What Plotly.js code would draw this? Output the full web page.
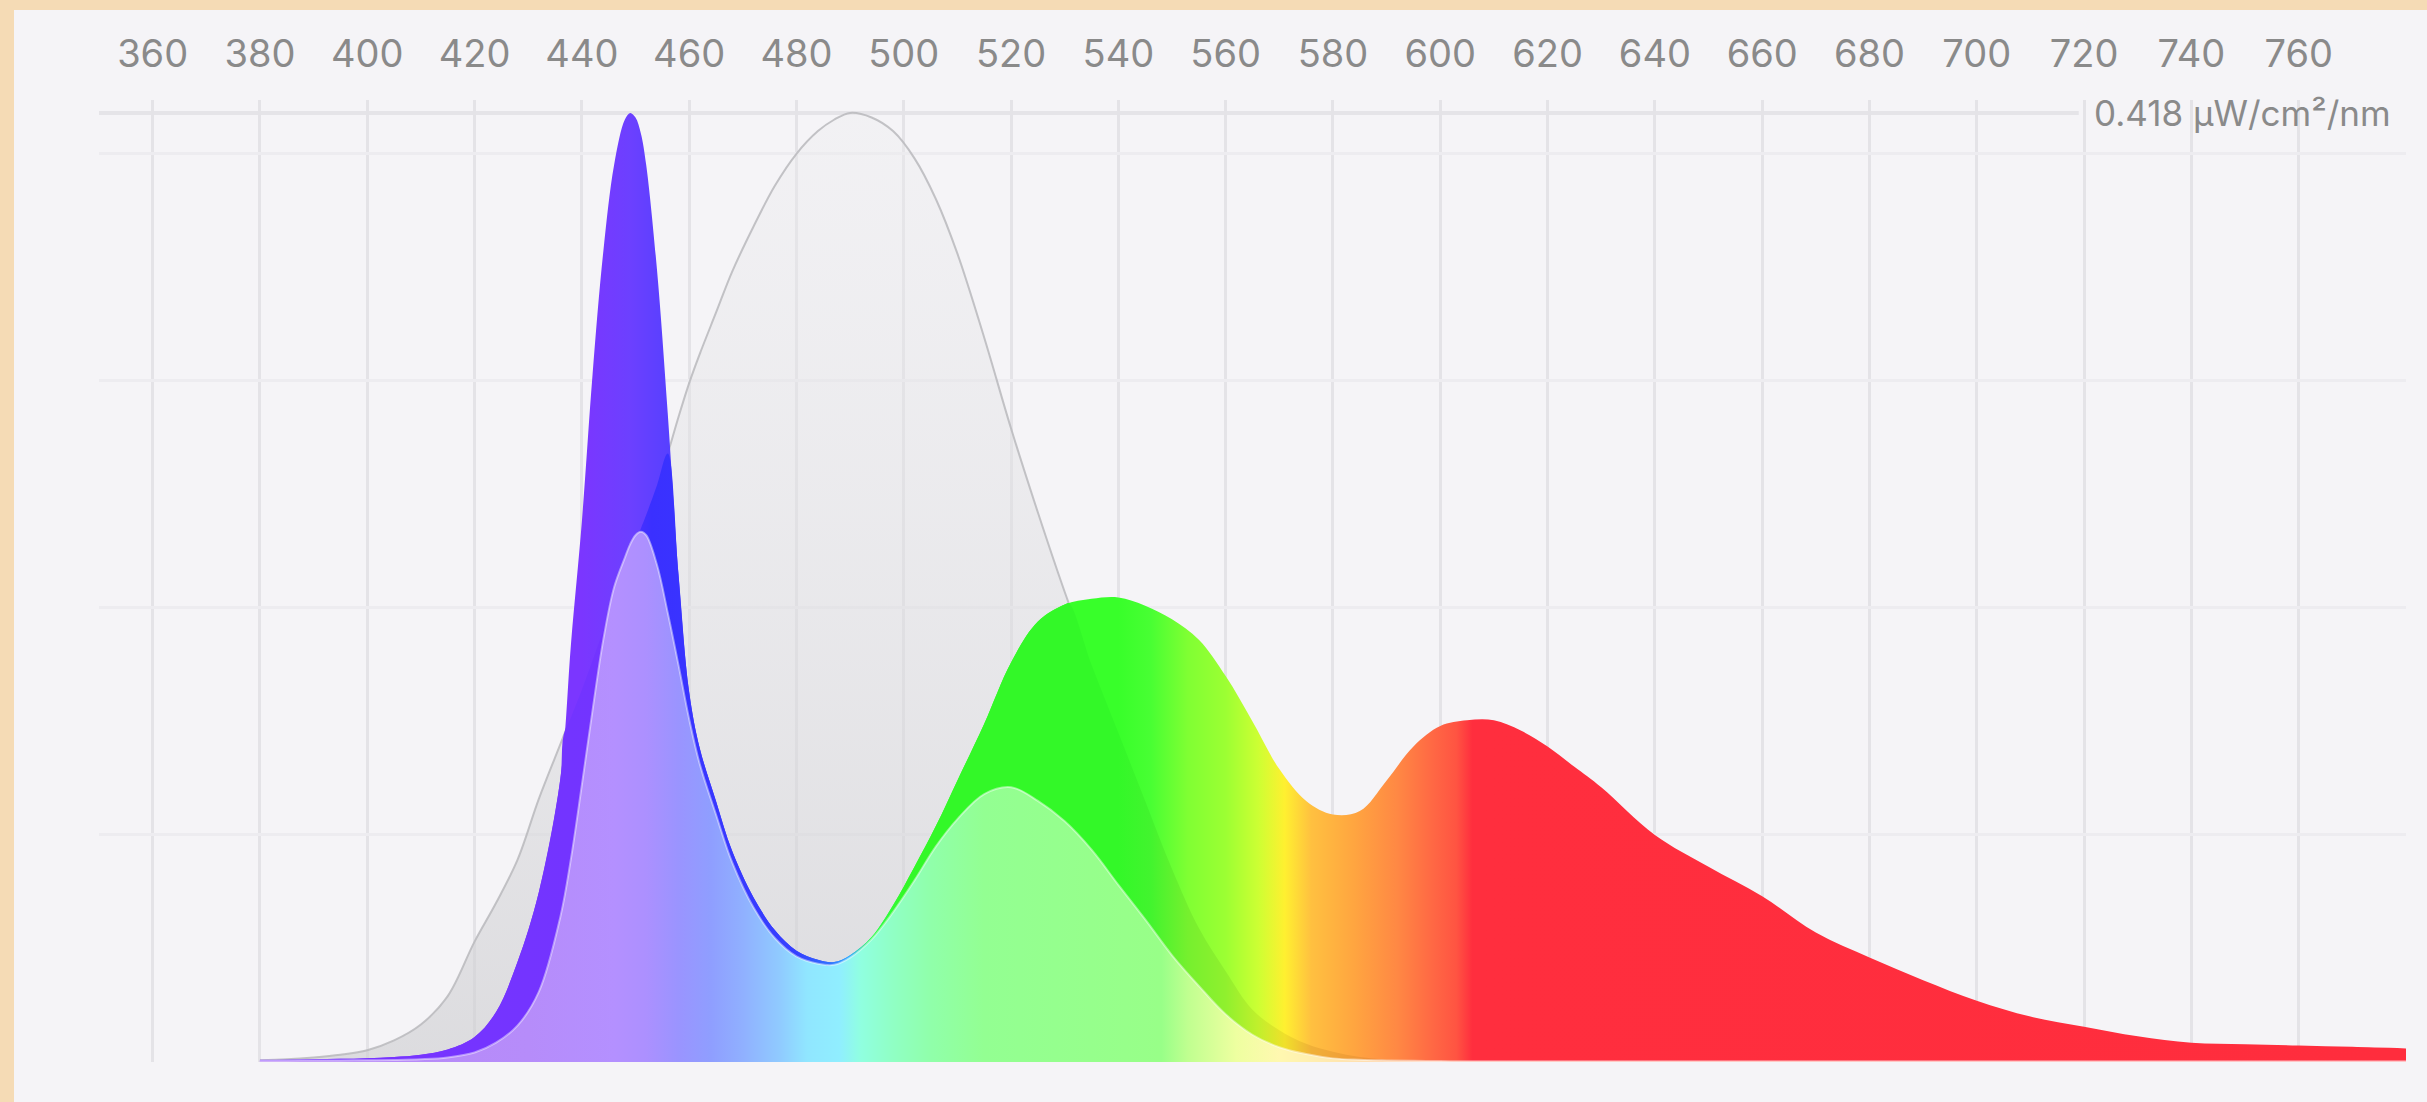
<!DOCTYPE html>
<html><head><meta charset="utf-8">
<script src="https://cdn.plot.ly/plotly-3.0.1.min.js"></script>
<style>
html,body{margin:0;padding:0;background:#f5dbb5;width:2427px;height:1102px;overflow:hidden}
#chart{position:absolute;left:14px;top:10px;width:2413px;height:1092px;background:#f5f4f7}
</style></head><body><div id="chart"></div>
<script>
// wavelength grid (nm)
const wavelengths = [380,385,390,395,400,405,410,415,420,424,428,432,436,438,440,442,444,446,448,449,450,451,452,454,456,458,460,462,465,468,472,476,480,484,487,490,494,498,502,506,510,515,520,525,530,535,540,545,550,555,560,565,570,575,580,585,590,595,600,605,610,615,620,625,630,640,650,660,670,680,690,700,710,720,730,740,750,760,770,780];
// measured spectral irradiance (µW/cm²/nm)
const spectrum = [0.001,0.001,0.0012,0.0014,0.0017,0.0022,0.0032,0.0055,0.011,0.022,0.044,0.075,0.125,0.185,0.238,0.303,0.357,0.395,0.415,0.418,0.416,0.409,0.395,0.349,0.286,0.215,0.163,0.138,0.115,0.093,0.0725,0.058,0.049,0.045,0.044,0.047,0.055,0.069,0.086,0.104,0.124,0.149,0.176,0.194,0.2015,0.204,0.2046,0.201,0.195,0.186,0.170,0.150,0.129,0.115,0.109,0.1105,0.124,0.139,0.148,0.1505,0.1505,0.146,0.139,0.130,0.121,0.100,0.086,0.073,0.057,0.046,0.036,0.027,0.020,0.0155,0.0113,0.0085,0.0078,0.0073,0.0067,0.006];
// sensitivity curve (grey), scaled to the peak value
const sensitivity = [0.0008,0.0012,0.002,0.0032,0.0052,0.0095,0.0165,0.029,0.053,0.07,0.089,0.116,0.14,0.152,0.164,0.177,0.19,0.203,0.216,0.222,0.229,0.235,0.241,0.254,0.268,0.284,0.299,0.312,0.330,0.348,0.368,0.386,0.400,0.410,0.415,0.418,0.416,0.410,0.398,0.380,0.356,0.319,0.279,0.242,0.207,0.175,0.145,0.115,0.085,0.059,0.04,0.023,0.014,0.008,0.0045,0.0022,0.001,0.0005,0.0002,0,0,0,0,0,0,0,0,0,0,0,0,0,0,0,0,0,0,0,0,0];
// part of the spectrum lying under the grey curve (own grid, with crossing points)
const overlapNm = [380,385,390,395,400,405,410,415,420,424,428,432,436,436.6,438,440,442,444,446,448,449,450,451,452,454,456,458,460,462,465,468,472,476,480,484,487,490,494,498,502,506,510,515,520,525,530,530.8,535,540,545,550,555,560,565,570,575,580,585,590,595,600,605,780];
const overlap = [0.0008,0.001,0.0012,0.0014,0.0017,0.0022,0.0032,0.0055,0.011,0.022,0.044,0.075,0.125,0.144,0.152,0.164,0.177,0.19,0.203,0.216,0.222,0.229,0.235,0.241,0.254,0.268,0.215,0.163,0.138,0.115,0.093,0.0725,0.058,0.049,0.045,0.044,0.047,0.055,0.069,0.086,0.104,0.124,0.149,0.176,0.194,0.2015,0.202,0.175,0.145,0.115,0.085,0.059,0.04,0.023,0.014,0.008,0.0045,0.0022,0.001,0.0005,0.0002,0,0];
// weighted spectrum (pastel fill)
const weighted = [0.0006,0.0006,0.0007,0.0007,0.0008,0.0009,0.0012,0.002,0.0042,0.0085,0.016,0.031,0.064,0.09,0.122,0.155,0.186,0.209,0.222,0.228,0.232,0.2335,0.232,0.219,0.198,0.175,0.151,0.131,0.109,0.088,0.068,0.0545,0.0465,0.0433,0.0428,0.046,0.054,0.066,0.080,0.095,0.107,0.118,0.121,0.115,0.106,0.0935,0.078,0.0628,0.047,0.0335,0.021,0.012,0.0065,0.0035,0.0016,0.001,0.0007,0.0005,0.0004,0.0003,0.0003,0.0003,0.0003,0.0003,0.0003,0.0003,0.0003,0.0003,0.0003,0.0003,0.0003,0.0003,0.0003,0.0003,0.0003,0.0003,0.0003,0.0003,0.0003,0.0003];
const tickValues = [360,380,400,420,440,460,480,500,520,540,560,580,600,620,640,660,680,700,720,740,760];
const gridValues = [0.1,0.2,0.3,0.4];
const peakValue = 0.418;
const peakLabel = '0.418 µW/cm²/nm';

const W0 = 380, W1 = 780;
function scale(stops){ return stops.map(s => [(s[0]-W0)/(W1-W0), s[1]]); }

const mainStops = [[380,'#7b36ff'],[440,'#7b36ff'],[449,'#6c40ff'],[456,'#5840ff'],[462,'#3c3cff'],[484,'#3840ff'],[489,'#3399ff'],[494,'#33ff60'],[500,'#38ff2a'],[540,'#38ff2a'],[546,'#48ff33'],[553,'#80ff33'],[560,'#9cff33'],[566,'#ccff33'],[571,'#fff030'],[576,'#ffc040'],[584,'#ffa540'],[592,'#ff8844'],[599,'#ff6644'],[603,'#ff5442'],[606,'#ff2e3e'],[780,'#ff2d3d']];
const overlapStops = [[380,'#7a34ff'],[446,'#7234ff'],[450,'#4a30ff'],[453,'#3a30ff'],[480,'#3540ff'],[486,'#3070ff'],[490,'#30b0ff'],[494,'#30ff50'],[500,'#33f828'],[540,'#33f828'],[546,'#42f42e'],[553,'#76f02e'],[560,'#90f02e'],[566,'#c0f02c'],[571,'#f0e02a'],[576,'#f0b038'],[584,'#f09a38'],[592,'#f08040'],[599,'#f06040'],[603,'#f04c3e'],[606,'#f02c3a'],[780,'#f02c3a']];
const weightedStops = [[380,'#b888f5'],[430,'#b68cfa'],[446,'#b490ff'],[452,'#ac90ff'],[458,'#9a94ff'],[464,'#8f9eff'],[470,'#90b0ff'],[477,'#90cbff'],[482,'#90e6ff'],[488,'#90eeff'],[492,'#90ffe0'],[498,'#90ffc4'],[505,'#90ffaa'],[515,'#93ff92'],[548,'#98ff88'],[553,'#c0ff90'],[562,'#eeffa0'],[570,'#fff8b0'],[585,'#ffe0b0'],[600,'#ffc8b0'],[780,'#ffb8b8']];

const FONT = 'Inter, "Noto Sans", sans-serif';

const traces = [
  {x: wavelengths, y: sensitivity, type:'scatter', mode:'lines', fill:'tozeroy',
   line:{shape:'spline', width:2, color:'rgba(185,185,188,0.85)'},
   fillgradient:{type:'vertical', start:0, stop:peakValue,
     colorscale:[[0,'rgba(205,205,208,0.62)'],[1,'rgba(236,236,238,0.35)']]},
   hoverinfo:'skip'},
  {x: wavelengths, y: spectrum, type:'scatter', mode:'lines', fill:'tozeroy',
   line:{shape:'spline', width:0, color:'rgba(0,0,0,0)'},
   fillgradient:{type:'horizontal', start:W0, stop:W1, colorscale: scale(mainStops)},
   hoverinfo:'skip'},
  {x: overlapNm, y: overlap, type:'scatter', mode:'lines', fill:'tozeroy',
   line:{shape:'spline', width:0, color:'rgba(0,0,0,0)'},
   fillgradient:{type:'horizontal', start:W0, stop:W1, colorscale: scale(overlapStops)},
   hoverinfo:'skip'},
  {x: wavelengths, y: weighted, type:'scatter', mode:'lines', fill:'tozeroy',
   line:{shape:'spline', width:2, color:'rgba(255,255,255,0.45)'},
   fillgradient:{type:'horizontal', start:W0, stop:W1, colorscale: scale(weightedStops)},
   hoverinfo:'skip'}
];

const layout = {
  width: 2413, height: 1092,
  margin:{l:85, r:21, t:90, b:40},
  paper_bgcolor:'#f5f4f7', plot_bgcolor:'#f5f4f7',
  showlegend:false,
  font:{family:FONT, color:'#8a8a8a'},
  xaxis:{range:[350,780], side:'top', tickmode:'array', tickvals:tickValues,
    ticktext: tickValues.map(String), ticks:'', ticklabelstandoff:24, showline:false, zeroline:false,
    showgrid:true, gridcolor:'#e4e3e7', gridwidth:3,
    tickfont:{size:38, color:'#8a8a8a', family:FONT}, fixedrange:true},
  yaxis:{range:[0,0.4237], tickmode:'array', tickvals:gridValues, showticklabels:false,
    ticks:'', showline:false, zeroline:false, showgrid:true, gridcolor:'#edecf0', gridwidth:3, fixedrange:true},
  shapes:[{type:'line', xref:'x', yref:'y', x0:350, x1:719, y0:peakValue, y1:peakValue,
    line:{color:'#e5e4e8', width:4}, layer:'below'}],
  annotations:[{xref:'x', yref:'y', x:721.5, y:peakValue, xanchor:'left', yanchor:'middle',
    text: peakLabel, showarrow:false, font:{size:35, color:'#8a8a8a', family:FONT}}]
};

Plotly.newPlot('chart', traces, layout, {displayModeBar:false, staticPlot:true});
</script></body></html>
